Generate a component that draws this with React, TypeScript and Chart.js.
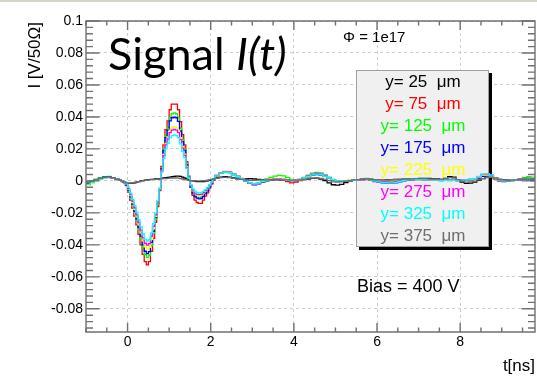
import React, { useEffect, useRef } from 'react';
import { Chart, registerables } from 'chart.js';
Chart.register(...registerables);

// histogram bin edges in ns
const T_EDGES = [
  -1.0, -0.9, -0.8, -0.7, -0.6, -0.5, -0.4, -0.3, -0.2,
  -0.15, -0.1, -0.05, 0.0, 0.05, 0.1, 0.15, 0.2, 0.25, 0.3, 0.35, 0.4, 0.45, 0.5,
  0.55, 0.6, 0.65, 0.7, 0.75, 0.8, 0.85, 0.9, 0.95, 1.0, 1.05, 1.1, 1.15, 1.2, 1.25, 1.3, 1.35, 1.4, 1.45, 1.5,
  1.55, 1.6, 1.65, 1.7, 1.75, 1.8, 1.85, 1.9, 1.95, 2.0, 2.05, 2.1,
  2.2, 2.3, 2.4, 2.5, 2.6, 2.7, 2.8, 2.9, 3.0, 3.1, 3.2, 3.3, 3.4, 3.5, 3.6, 3.7, 3.8, 3.9, 4.0, 4.1,
  4.2, 4.3, 4.4, 4.5, 4.6, 4.7, 4.8, 4.9, 5.0, 5.1, 5.2, 5.3, 5.4, 5.5, 5.6, 5.7, 5.8, 5.9, 6.0, 6.1,
  6.2, 6.3, 6.4, 6.5, 6.6, 6.7, 6.8, 6.9, 7.0, 7.1, 7.2, 7.3, 7.4, 7.5, 7.6, 7.7, 7.8, 7.9, 8.0, 8.1,
  8.2, 8.3, 8.4, 8.5, 8.6, 8.7, 8.8, 8.9, 9.0, 9.1, 9.2, 9.3, 9.4, 9.5, 9.6, 9.7, 9.8, 9.9,
];

// signal I(t) [V/50Ohm], one value per bin
const I_25 = [
  -0.001, -0.0002, 0.0008, 0.0016, 0.0023, 0.0025, 0.0018, 0.0009,
  0.0004, -0.0004, -0.001, -0.0014, -0.0015, -0.0015, -0.0014, -0.0012, -0.0008, -0.0004, 0.0, 0.0002, 0.0004,
  0.0006, 0.0008, 0.001, 0.001, 0.0012, 0.0012, 0.0014, 0.0016, 0.0018, 0.002, 0.0022, 0.0024, 0.0026, 0.0028,
  0.003, 0.003, 0.0028, 0.0024, 0.0018, 0.0012, 0.0006, 0.0002, 0.0, -0.0002, -0.0004, -0.0004, -0.0004, -0.0004,
  -0.0002, 0.0, 0.0004, 0.0008, 0.0012,
  0.0018, 0.0024, 0.0027, 0.0024, 0.0018, 0.0014, 0.0012, 0.0012, 0.0014, 0.0012,
  0.001, 0.0008, 0.0006, 0.0006, 0.0006, 0.0006, 0.0005, 0.0004, 0.0004, 0.0004,
  0.0005, 0.0008, 0.0012, 0.0016, 0.0017, 0.0012, 0.0002, -0.0012, -0.0024, -0.0026,
  -0.0022, -0.001, 0.0, 0.0006, 0.0008, 0.001, 0.001, 0.0008, 0.0006, 0.0004,
  0.0004, 0.0006, 0.0008, 0.0009, 0.001, 0.0011, 0.0012, 0.0013, 0.0014, 0.0015,
  0.0016, 0.0016, 0.0014, 0.0012, 0.001, 0.0016, 0.0026, 0.0024, 0.0008, -0.0008,
  -0.0015, -0.0014, -0.0008, 0.0004, 0.0014, 0.0022, 0.0024, 0.0018, 0.001, 0.0006,
  0.0004, 0.0005, 0.0006, 0.0008, 0.001, 0.001, 0.0008, 0.0008,
];
const I_75 = [
  -0.0025, -0.0012, 0.0002, 0.0014, 0.0022, 0.0024, 0.0018, 0.0008,
  0.0004, 0.0, -0.001, -0.003, -0.007, -0.012, -0.017, -0.022, -0.0275, -0.0335, -0.04, -0.046, -0.0505,
  -0.0525, -0.0505, -0.044, -0.036, -0.026, -0.016, -0.006, 0.009, 0.0225, 0.032, 0.0375, 0.0445, 0.048, 0.048,
  0.048, 0.0445, 0.037, 0.029, 0.0225, 0.012, 0.003, -0.004, -0.009, -0.012, -0.0135, -0.014, -0.014, -0.012,
  -0.0095, -0.0075, -0.0045, -0.002, 0.0005,
  0.003, 0.005, 0.0058, 0.0055, 0.004, 0.0028, 0.0012, 0.0002, -0.0015, -0.0022,
  -0.0016, -0.0006, 0.0002, 0.0008, 0.001, 0.001, 0.0006, -0.0004, -0.0012, -0.0008,
  0.0002, 0.0014, 0.0026, 0.0036, 0.0042, 0.004, 0.0032, 0.002, 0.0008, 0.0,
  -0.0003, -0.0002, 0.0001, 0.0003, 0.0004, 0.0006, 0.0008, 0.0004, -0.0004, -0.0002,
  0.0002, 0.0, -0.0001, 0.0002, 0.0004, 0.0008, 0.001, 0.0012, 0.0012, 0.001,
  0.0008, 0.0007, 0.0006, 0.0005, 0.0004, 0.0003, 0.0002, 0.0003, 0.0006, 0.0007,
  0.0008, 0.0009, 0.0012, 0.002, 0.003, 0.0032, 0.0026, 0.0012, 0.0, -0.0002,
  0.0, 0.0004, 0.0008, 0.0014, 0.0018, 0.0016, 0.0014, 0.0012,
];
const I_125 = [
  -0.0012, -0.0002, 0.001, 0.002, 0.0026, 0.0028, 0.002, 0.001,
  0.0006, 0.0002, -0.0008, -0.0028, -0.0062, -0.0108, -0.0155, -0.02, -0.025, -0.0305, -0.0365, -0.042, -0.0462,
  -0.048, -0.0465, -0.0405, -0.033, -0.024, -0.0148, -0.0055, 0.008, 0.02, 0.0285, 0.0335, 0.0395, 0.042, 0.0425,
  0.042, 0.0395, 0.033, 0.026, 0.02, 0.0108, 0.0028, -0.0032, -0.007, -0.0092, -0.0102, -0.0105, -0.0102, -0.009,
  -0.0072, -0.0055, -0.0032, -0.0012, 0.001,
  0.0035, 0.0052, 0.006, 0.0056, 0.0045, 0.003, 0.0015, 0.0002, -0.0012, -0.0018,
  -0.0012, 0.0, 0.0012, 0.0022, 0.003, 0.0034, 0.0032, 0.0022, 0.001, 0.0006,
  0.001, 0.0022, 0.0036, 0.0048, 0.0053, 0.005, 0.0038, 0.0024, 0.001, 0.0002,
  0.0, 0.0002, 0.0004, 0.0006, 0.0008, 0.0012, 0.0016, 0.0014, 0.0006, 0.0002,
  0.0, 0.0002, 0.0004, 0.0006, 0.0008, 0.001, 0.0012, 0.0012, 0.001, 0.0008,
  0.0006, 0.0005, 0.0004, 0.0006, 0.0008, 0.0007, 0.0006, 0.0005, 0.0004, 0.0004,
  0.0004, 0.0006, 0.001, 0.0018, 0.003, 0.0032, 0.0026, 0.0014, 0.0004, 0.0,
  0.0, 0.0002, 0.0006, 0.0014, 0.0022, 0.0026, 0.0024, 0.002,
];
const I_175 = [
  -0.0015, -0.0006, 0.0006, 0.0016, 0.0023, 0.0025, 0.0018, 0.0009,
  0.0005, 0.0, -0.0008, -0.0026, -0.0058, -0.01, -0.0145, -0.019, -0.0238, -0.029, -0.0345, -0.04, -0.044,
  -0.0455, -0.0442, -0.0385, -0.0315, -0.023, -0.014, -0.005, 0.0075, 0.019, 0.027, 0.0318, 0.0375, 0.0395, 0.0398,
  0.0395, 0.0372, 0.0312, 0.0245, 0.019, 0.01, 0.0024, -0.0036, -0.0076, -0.0098, -0.0108, -0.0112, -0.011, -0.0098,
  -0.008, -0.0062, -0.0038, -0.0016, 0.0006,
  0.003, 0.0048, 0.0055, 0.0052, 0.004, 0.0026, 0.0012, -0.0002, -0.0016, -0.0024,
  -0.0018, -0.0008, 0.0, 0.0008, 0.0012, 0.0013, 0.001, 0.0006, 0.0002, 0.0002,
  0.0008, 0.0018, 0.0028, 0.0036, 0.004, 0.0038, 0.003, 0.0018, 0.0006, -0.0002,
  -0.0003, 0.0, 0.0002, 0.0004, 0.0006, 0.0008, 0.001, 0.0006, -0.0002, -0.0008,
  -0.0012, -0.0015, -0.0016, -0.0012, -0.0006, 0.0, 0.0004, 0.0007, 0.0008, 0.0008,
  0.0006, 0.0005, 0.0004, 0.0003, 0.0002, 0.0003, 0.0004, 0.0003, 0.0002, 0.0003,
  0.0004, 0.0006, 0.001, 0.0018, 0.0028, 0.0032, 0.003, 0.0016, 0.0002, -0.0004,
  -0.0002, 0.0002, 0.0004, 0.0008, 0.001, 0.0006, 0.0002, 0.0,
];
const I_225 = [
  -0.0028, -0.0016, -0.0002, 0.001, 0.0018, 0.0021, 0.0016, 0.0008,
  0.0004, 0.0, -0.0006, -0.0022, -0.0052, -0.0092, -0.0135, -0.0178, -0.0225, -0.0275, -0.0325, -0.0375, -0.0412,
  -0.0425, -0.0415, -0.0365, -0.03, -0.0222, -0.0138, -0.0052, 0.0065, 0.0165, 0.0235, 0.0275, 0.0318, 0.0335,
  0.0338, 0.0335, 0.0318, 0.027, 0.0215, 0.0168, 0.009, 0.0022, -0.003, -0.0062, -0.008, -0.0088, -0.009, -0.0088,
  -0.0078, -0.0064, -0.0048, -0.003, -0.001, 0.001,
  0.0032, 0.005, 0.0056, 0.0054, 0.0042, 0.0028, 0.0014, 0.0002, -0.0012, -0.0018,
  -0.0012, -0.0002, 0.0006, 0.0012, 0.0015, 0.0015, 0.0012, 0.0008, 0.0004, 0.0004,
  0.0008, 0.0018, 0.003, 0.004, 0.0045, 0.0042, 0.0032, 0.002, 0.0008, 0.0,
  0.0, 0.0002, 0.0004, 0.0006, 0.0008, 0.001, 0.0012, 0.0008, 0.0004, 0.0002,
  0.0, -0.0003, -0.0004, -0.0002, 0.0002, 0.0005, 0.0008, 0.001, 0.001, 0.0008,
  0.0006, 0.0005, 0.0004, 0.0004, 0.0004, 0.0003, 0.0002, 0.0003, 0.0004, 0.0005,
  0.0006, 0.0008, 0.0012, 0.0022, 0.0034, 0.0036, 0.0032, 0.0018, 0.0006, 0.0,
  0.0002, 0.0004, 0.0006, 0.001, 0.0014, 0.0014, 0.001, 0.0008,
];
const I_275 = [
  -0.002, -0.0008, 0.0004, 0.0014, 0.0021, 0.0023, 0.0016, 0.0008,
  0.0004, 0.0, -0.0006, -0.002, -0.0048, -0.0086, -0.0126, -0.0168, -0.0212, -0.026, -0.0308, -0.0355, -0.039,
  -0.0402, -0.0392, -0.0345, -0.0285, -0.0212, -0.0132, -0.005, 0.0062, 0.0158, 0.0225, 0.0262, 0.0302, 0.0318,
  0.0322, 0.0318, 0.0302, 0.0258, 0.0205, 0.016, 0.0085, 0.002, -0.0028, -0.0058, -0.0076, -0.0084, -0.0086,
  -0.0084, -0.0074, -0.006, -0.0046, -0.0028, -0.0008, 0.0012,
  0.0034, 0.005, 0.0056, 0.0054, 0.0042, 0.0028, 0.0014, 0.0, -0.0014, -0.002,
  -0.0014, -0.0004, 0.0004, 0.001, 0.0013, 0.0013, 0.001, 0.0006, 0.0002, 0.0004,
  0.001, 0.002, 0.0032, 0.0042, 0.0047, 0.0044, 0.0034, 0.002, 0.0008, 0.0,
  0.0, 0.0001, 0.0002, 0.0005, 0.0008, 0.0012, 0.0014, 0.001, 0.0004, -0.0002,
  -0.0004, -0.0007, -0.0008, -0.0004, 0.0, 0.0004, 0.0006, 0.0009, 0.001, 0.0009,
  0.0008, 0.0007, 0.0006, 0.0005, 0.0004, 0.0004, 0.0004, 0.0003, 0.0002, 0.0004,
  0.0006, 0.0009, 0.0014, 0.0026, 0.004, 0.0042, 0.0036, 0.002, 0.0008, 0.0002,
  0.0002, 0.0004, 0.0006, 0.0012, 0.0016, 0.0016, 0.0012, 0.001,
];
const I_325 = [
  -0.0022, -0.001, 0.0002, 0.0012, 0.0019, 0.0021, 0.0016, 0.0008,
  0.0004, 0.0, -0.0004, -0.0016, -0.004, -0.0076, -0.0115, -0.0155, -0.0196, -0.0242, -0.0288, -0.0332, -0.0365,
  -0.0376, -0.0368, -0.0325, -0.0268, -0.02, -0.0125, -0.0046, 0.0055, 0.014, 0.02, 0.0235, 0.027, 0.0283, 0.0288,
  0.0285, 0.027, 0.0232, 0.0185, 0.0146, 0.0078, 0.0018, -0.0024, -0.005, -0.0066, -0.0074, -0.0076, -0.0074,
  -0.0066, -0.0054, -0.004, -0.0024, -0.0006, 0.0012,
  0.0032, 0.0048, 0.0054, 0.0052, 0.004, 0.0026, 0.0012, 0.0, -0.0012, -0.0018,
  -0.0013, -0.0004, 0.0002, 0.0008, 0.001, 0.001, 0.0008, 0.0004, 0.0002, 0.0003,
  0.0008, 0.0018, 0.0028, 0.0038, 0.0042, 0.004, 0.003, 0.0018, 0.0008, 0.0,
  0.0, 0.0001, 0.0002, 0.0004, 0.0006, 0.0008, 0.001, 0.0006, -0.0002, -0.0006,
  -0.001, -0.0013, -0.0014, -0.001, -0.0004, 0.0002, 0.0006, 0.0009, 0.001, 0.0009,
  0.0008, 0.0007, 0.0006, 0.0005, 0.0004, 0.0004, 0.0004, 0.0003, 0.0002, 0.0004,
  0.0006, 0.001, 0.0016, 0.0028, 0.0042, 0.0044, 0.0038, 0.002, 0.0006, 0.0,
  0.0, 0.0004, 0.0006, 0.001, 0.0014, 0.0012, 0.0008, 0.0006,
];
const I_375 = [
  -0.0008, 0.0, 0.0009, 0.0016, 0.0022, 0.0024, 0.0018, 0.0009,
  0.0004, -0.0002, -0.0008, -0.0012, -0.0014, -0.0013, -0.0012, -0.001, -0.0007, -0.0004, -0.0001, 0.0001, 0.0003,
  0.0005, 0.0006, 0.0008, 0.0009, 0.001, 0.0011, 0.0012, 0.0013, 0.0014, 0.0015, 0.0016, 0.0017, 0.0018, 0.0018,
  0.0018, 0.0017, 0.0015, 0.0012, 0.0009, 0.0006, 0.0003, 0.0001, 0.0, 0.0, 0.0, 0.0, 0.0, 0.0001, 0.0002,
  0.0004, 0.0006, 0.0009, 0.0012,
  0.0016, 0.002, 0.0022, 0.002, 0.0016, 0.0012, 0.0009, 0.0006, 0.0004, 0.0004,
  0.0005, 0.0006, 0.0007, 0.0008, 0.0008, 0.0008, 0.0007, 0.0006, 0.0005, 0.0005,
  0.0006, 0.0009, 0.0013, 0.0017, 0.0018, 0.0015, 0.001, 0.0002, -0.0006, -0.0008,
  -0.0006, -0.0002, 0.0002, 0.0006, 0.0008, 0.001, 0.0012, 0.001, 0.0008, 0.0006,
  0.0005, 0.0005, 0.0006, 0.0008, 0.001, 0.0011, 0.0012, 0.0013, 0.0014, 0.0014,
  0.0014, 0.0013, 0.0012, 0.0011, 0.001, 0.0014, 0.002, 0.0018, 0.0008, -0.0002,
  -0.0008, -0.0007, -0.0002, 0.0006, 0.0014, 0.002, 0.0022, 0.0018, 0.001, 0.0006,
  0.0004, 0.0005, 0.0006, 0.0009, 0.0012, 0.0012, 0.001, 0.0008,
];

const SERIES = [I_25, I_75, I_125, I_175, I_225, I_275, I_325, I_375];
const SERIES_LABELS = ['y= 25  μm', 'y= 75  μm', 'y= 125  μm', 'y= 175  μm', 'y= 225  μm', 'y= 275  μm', 'y= 325  μm', 'y= 375  μm'];
const SERIES_COLORS = ['#000000', '#ff0000', '#00ff00', '#0000ff', '#ffff00', '#ff00ff', '#00ffff', '#6e6e6e'];
const X_TICKS = [0, 2, 4, 6, 8];
const Y_TICKS = [-0.08, -0.06, -0.04, -0.02, 0, 0.02, 0.04, 0.06, 0.08, 0.1];
const X_MIN = -1.0;
const X_MAX = 9.8;
const Y_MIN = -0.0945;
const Y_MAX = 0.1;

const SANS = '"Liberation Sans", Arial, Helvetica, sans-serif';

const overlay = {
  id: 'overlay',
  beforeDraw(chart: any) {
    const ctx = chart.ctx;
    ctx.save();
    ctx.fillStyle = '#ffffff';
    ctx.fillRect(0, 0, chart.width, chart.height);
    ctx.fillStyle = '#d8d5c4';
    ctx.fillRect(0, 0, chart.width, 2);
    ctx.restore();
  },
  beforeDatasetsDraw(chart: any) {
    const ctx = chart.ctx;
    ctx.save();
    const bx = 356, by = 70, bw = 133, bh = 177;
    ctx.fillStyle = '#000000';
    ctx.fillRect(bx + 3, by + bh, bw, 3);
    ctx.fillRect(bx + bw, by + 3, 3, bh);
    ctx.fillStyle = '#f0f0f0';
    ctx.fillRect(bx, by, bw, bh);
    ctx.strokeStyle = '#a0a0a0';
    ctx.lineWidth = 1;
    ctx.strokeRect(bx + 0.5, by + 0.5, bw - 1, bh - 1);
    ctx.font = `17px ${SANS}`;
    ctx.textAlign = 'center';
    ctx.textBaseline = 'middle';
    SERIES_LABELS.forEach((lab, i) => {
      ctx.fillStyle = SERIES_COLORS[i];
      ctx.fillText(lab, 423, 82 + i * 22.1);
    });
    ctx.restore();
  },
  afterDatasetsDraw(chart: any) {
    const ctx = chart.ctx;
    const { left, right, top, bottom } = chart.chartArea;
    const xs = chart.scales.x;
    const ys = chart.scales.y;
    ctx.save();
    ctx.strokeStyle = '#707070';
    ctx.lineWidth = 1.4;
    ctx.beginPath();
    ctx.rect(left, top, right - left, bottom - top);
    ctx.stroke();
    ctx.beginPath();
    for (let k = -2; k <= 19; k++) {
      const v = k * 0.5;
      if (v < X_MIN || v > X_MAX) continue;
      const px = xs.getPixelForValue(v);
      const len = k % 4 === 0 ? 9 : 4.5;
      ctx.moveTo(px, bottom);
      ctx.lineTo(px, bottom - len);
      ctx.moveTo(px, top);
      ctx.lineTo(px, top + len);
    }
    for (let k = -24; k <= 25; k++) {
      const v = k * 0.004;
      if (v < Y_MIN - 1e-9 || v > Y_MAX + 1e-9) continue;
      const py = ys.getPixelForValue(v);
      const len = k % 5 === 0 ? 13.5 : 7;
      ctx.moveTo(left, py);
      ctx.lineTo(left + len, py);
      ctx.moveTo(right, py);
      ctx.lineTo(right - len, py);
    }
    ctx.stroke();
    ctx.restore();
  },
  afterDraw(chart: any) {
    const ctx = chart.ctx;
    ctx.save();
    ctx.fillStyle = '#000000';
    ctx.textBaseline = 'alphabetic';
    ctx.textAlign = 'left';
    ctx.font = '45px Lato, "Open Sans", sans-serif';
    const w = ctx.measureText('Signal ').width;
    ctx.fillText('Signal ', 108, 70);
    ctx.font = 'italic 45px Lato, "Open Sans", sans-serif';
    ctx.fillText('I(t)', 108 + w, 70);
    ctx.font = `15px ${SANS}`;
    ctx.textBaseline = 'middle';
    ctx.fillText('Φ = 1e17', 343, 38);
    ctx.font = `18px ${SANS}`;
    ctx.fillText('Bias = 400 V', 357, 287);
    ctx.font = `17px ${SANS}`;
    ctx.textAlign = 'right';
    ctx.fillText('t[ns]', 535, 366);
    ctx.translate(35, 22);
    ctx.rotate(-Math.PI / 2);
    ctx.textAlign = 'right';
    ctx.fillText('I [V/50Ω]', 0, 0);
    ctx.restore();
  },
};

export default function App() {
  const ref = useRef<HTMLCanvasElement | null>(null);
  useEffect(() => {
    document.body.style.margin = '0';
    const canvas = ref.current;
    if (!canvas) return;
    const datasets = SERIES.map((vals, i) => ({
      label: SERIES_LABELS[i],
      data: T_EDGES.map((t, j) => ({ x: t, y: vals[Math.min(j, vals.length - 1)] })),
      borderColor: SERIES_COLORS[i],
      backgroundColor: SERIES_COLORS[i],
      borderWidth: 1.3,
      pointRadius: 0,
      stepped: 'before' as const,
      fill: false,
      order: SERIES.length - 1 - i,
    }));
    const chart = new Chart(canvas, {
      type: 'line',
      data: { datasets },
      options: {
        responsive: false,
        animation: false,
        events: [],
        layout: { padding: { top: 21, right: 2, left: 0, bottom: 0 } },
        plugins: { legend: { display: false }, tooltip: { enabled: false }, title: { display: false } },
        scales: {
          x: {
            type: 'linear',
            min: X_MIN,
            max: X_MAX,
            afterBuildTicks: (s: any) => { s.ticks = X_TICKS.map((v) => ({ value: v })); },
            afterFit: (s: any) => { s.height = 46; },
            grid: { color: '#cfcfcf', lineWidth: 1, drawTicks: false },
            border: { display: false, dash: [3, 3] },
            ticks: {
              color: '#000',
              font: { family: SANS, size: 14 },
              padding: 2,
              maxRotation: 0,
              autoSkip: false,
              callback: (v: any) => String(v),
            },
          },
          y: {
            type: 'linear',
            min: Y_MIN,
            max: Y_MAX,
            afterBuildTicks: (s: any) => { s.ticks = Y_TICKS.map((v) => ({ value: v })); },
            afterFit: (s: any) => { s.width = 86; },
            grid: { color: '#cfcfcf', lineWidth: 1, drawTicks: false },
            border: { display: false, dash: [3, 3] },
            ticks: {
              color: '#000',
              font: { family: SANS, size: 14 },
              padding: 3,
              autoSkip: false,
              callback: (v: any) => String(parseFloat(Number(v).toFixed(4))),
            },
          },
        },
      },
      plugins: [overlay],
    });
    return () => chart.destroy();
  }, []);
  return (
    <div style={{ width: 537, height: 378 }}>
      <canvas ref={ref} width={537} height={378} style={{ display: 'block' }} />
    </div>
  );
}
